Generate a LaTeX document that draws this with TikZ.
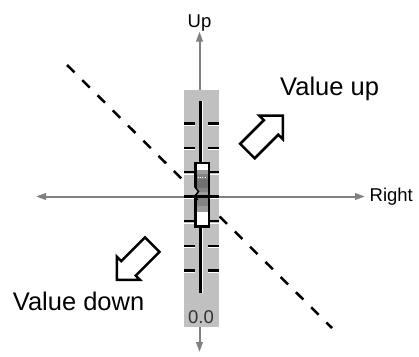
\documentclass[tikz,border=0pt]{standalone}
\usepackage{fontspec}
\setmainfont{Liberation Sans}
\usetikzlibrary{arrows.meta}
\definecolor{axisgray}{RGB}{128,128,128}
\definecolor{fadergray}{RGB}{192,192,192}
\definecolor{knobdark}{RGB}{112,112,112}
\definecolor{knobmid}{RGB}{132,132,132}
\definecolor{knoblight}{RGB}{156,156,156}
\definecolor{labelgray}{RGB}{50,50,50}
\begin{document}
\begin{tikzpicture}[x=1pt,y=-1pt,
  >={Triangle[length=10pt,width=6.5pt]},
  axisline/.style={draw=axisgray, line width=2pt, <->},
  diagline/.style={draw=black, line width=2.5pt, dash pattern=on 10.5pt off 11pt},
  lab/.style={inner sep=0pt, text=black},
  biglab/.style={lab, font=\fontsize{25.5}{30}\selectfont},
  smalllab/.style={lab, font=\fontsize{18.5}{22}\selectfont},
  blockarrow/.style={draw=black, fill=white, line width=2.5pt, line join=miter},
  majortick/.style={draw=black, line width=3pt},
  minortick/.style={draw=black, line width=2pt},
  tickshine/.style={draw=white, line width=1pt},
  dotrow/.style={draw=white, line width=0.8pt, dash pattern=on 0.8pt off 1.6pt}]
\useasboundingbox (0,0) rectangle (419,356);

% axes
\coordinate (axT) at (199.5,31.5);
\coordinate (axB) at (199.5,352);
\coordinate (axL) at (36,196.5);
\coordinate (axR) at (365,196.5);
\draw[axisline] (axB) -- (axT);
\draw[axisline] (axL) -- (axR);

% dashed diagonal
\coordinate (dA) at (67,65);
\coordinate (dB) at (332,328);
\draw[diagline] (dA) -- (dB);

% labels
\node[smalllab, anchor=base] (up) at (199.5,27.3) {Up};
\node[smalllab, anchor=base west] (right) at (369.5,201.7) {Right};
\node[biglab, anchor=base west] (vup) at (280,95.5) {Value up};
\node[biglab, anchor=base west] (vdown) at (12.7,310) {Value down};

% block arrows
\begin{scope}[shift={(247.4,151.1)}, rotate=45]
  \draw[blockarrow] (0,-10.25) -- (33.5,-10.25) -- (33.5,-16.5) -- (50,0)
    -- (33.5,16.5) -- (33.5,10.25) -- (0,10.25) -- cycle;
\end{scope}
\begin{scope}[shift={(152.2,244.6)}, rotate=225]
  \draw[blockarrow] (0,-10.25) -- (33.5,-10.25) -- (33.5,-16.5) -- (50,0)
    -- (33.5,16.5) -- (33.5,10.25) -- (0,10.25) -- cycle;
\end{scope}

% fader body
\fill[fadergray] (184,90) rectangle (218.5,326.5);
\node[lab, text=labelgray, font=\fontsize{18.5}{22}\selectfont, anchor=base] (zero) at (201,323) {0.0};

% ticks
\foreach \k in {-3,...,3}{
  \pgfmathsetmacro{\ty}{196.7+24.5*\k}
  \ifnum\k=0 \def\tst{majortick}\else\ifnum\k=3 \def\tst{majortick}\else\ifnum\k=-3 \def\tst{majortick}\else\def\tst{minortick}\fi\fi\fi
  \draw[\tst] (184,\ty) -- (194.5,\ty);
  \draw[\tst] (208,\ty) -- (218.5,\ty);
  \draw[tickshine] (184,\ty+1.9) -- (194.5,\ty+1.9);
  \draw[tickshine] (208,\ty+1.9) -- (218.5,\ty+1.9);
}

% track
\fill[black] (198.5,101) rectangle (201.5,293);
\fill[white] (201.5,101) rectangle (203,293);

% knob
\fill[white] (195.25,163) rectangle (208.75,226.5);
\fill[knoblight] (196.3,170) rectangle (207.7,174);
\fill[knobmid] (196.3,174) rectangle (207.7,179);
\fill[knobdark] (196.3,179) rectangle (207.7,188);
\fill[knobmid] (196.3,188) rectangle (207.7,192);
\fill[knoblight] (196.3,192) rectangle (207.7,195.5);
\fill[knobmid] (196.3,198) rectangle (207.7,206);
\fill[knoblight] (196.3,206) rectangle (207.7,212);
\fill[black] (195.25,195.2) rectangle (208.75,198.2);
\draw[dotrow] (197.5,166.5) -- (207,166.5);
\draw[dotrow] (197.5,177) -- (207,177);
\draw[dotrow] (197.5,214.5) -- (207,214.5);
\draw[line width=2.5pt] (195.25,163) rectangle (208.75,226.5);
\fill[fadergray] (193.9,187) -- (198.2,191.5) -- (193.9,195.5) -- cycle;
\draw[line width=1.5pt] (195,187) -- (198.5,191.5) -- (195,196) -- (197.5,200);
\end{tikzpicture}
\end{document}
